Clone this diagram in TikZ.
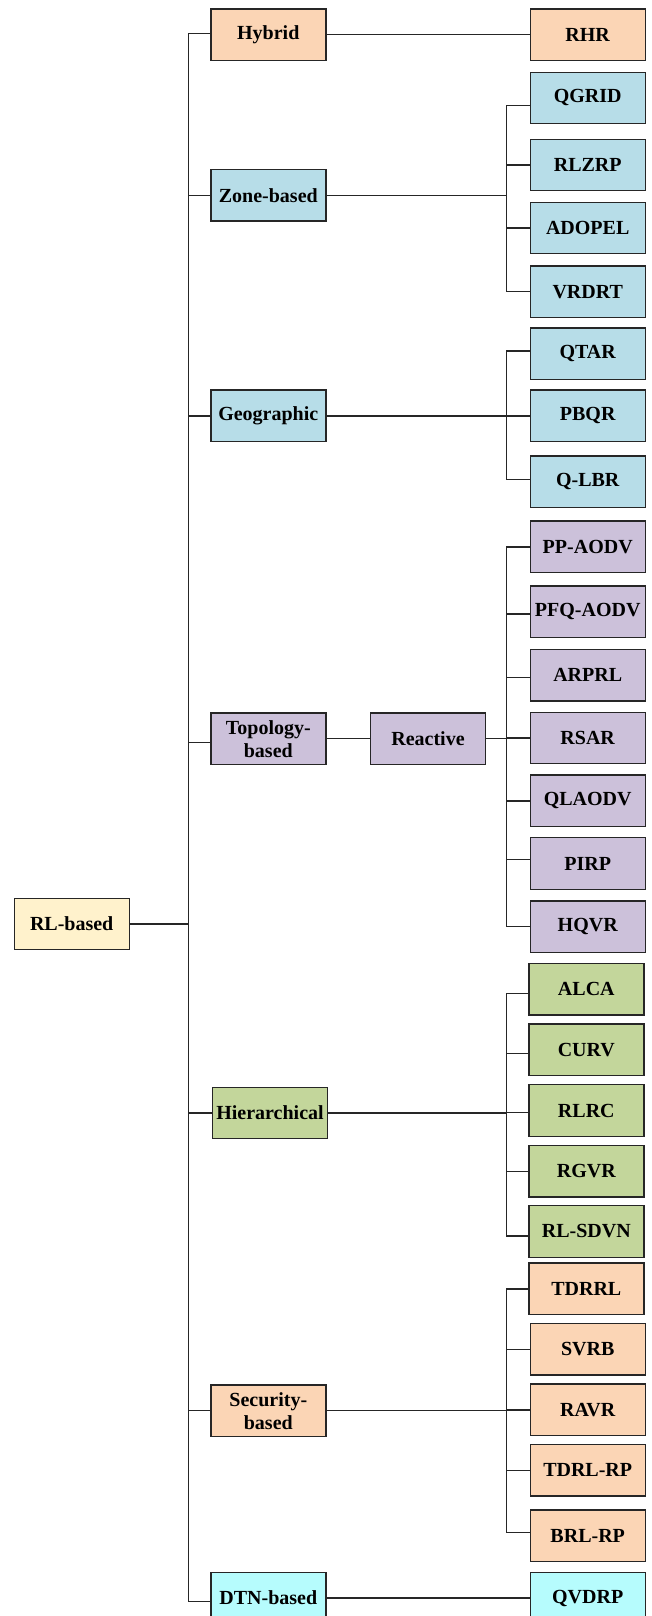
\documentclass[tikz,border=0pt]{standalone}
\usepackage{fontspec}
\setmainfont{Liberation Serif}
\definecolor{peach}{HTML}{FBD5B5}
\definecolor{sky}{HTML}{B7DDE8}
\definecolor{lavender}{HTML}{CCC1DA}
\definecolor{sage}{HTML}{C3D69B}
\definecolor{cream}{HTML}{FFF2CC}
\definecolor{aqua}{HTML}{B6FCFD}
\begin{document}
\begin{tikzpicture}[x=1pt,y=-1pt,
  box/.style={draw=black!85, line width=1.4pt, minimum width=115pt, minimum height=51.5pt,
    inner sep=0pt, align=center, font=\fontsize{20}{23}\selectfont\bfseries},
  link/.style={draw=black!85, line width=1.4pt}]
\useasboundingbox (0,0) rectangle (651,1616);
\clip (0,0) rectangle (651,1616);

% root
\node[box, fill=cream] (rl) at (71.7,924) {RL-based};

% first level
\node[box, fill=peach]    (hyb)  at (268.3,34.7)   {Hybrid};
\node[box, fill=sky]      (zone) at (268.3,195.3)  {Zone-based};
\node[box, fill=sky]      (geo)  at (268.3,415.8)  {Geographic};
\node[box, fill=lavender] (topo) at (268.3,738.7)  {Topology-\\based};
\node[box, fill=sage]     (hier) at (270,1113)     {Hierarchical};
\node[box, fill=peach]    (sec)  at (268.3,1410.7) {Security-\\based};
\node[box, fill=aqua]     (dtn)  at (268.3,1598)   {DTN-based};

% second level under topology
\node[box, fill=lavender] (react) at (428,738.7) {Reactive};

% leaves
\node[box, fill=peach] (rhr) at (587.7,34.7) {RHR};

\node[box, fill=sky] (qgrid)  at (587.7,98)    {QGRID};
\node[box, fill=sky] (rlzrp)  at (587.7,165)   {RLZRP};
\node[box, fill=sky] (adopel) at (587.7,228)   {ADOPEL};
\node[box, fill=sky] (vrdrt)  at (587.7,291.7) {VRDRT};

\node[box, fill=sky] (qtar) at (587.7,353.8) {QTAR};
\node[box, fill=sky] (pbqr) at (587.7,415.8) {PBQR};
\node[box, fill=sky] (qlbr) at (587.7,481.7) {Q-LBR};

\node[box, fill=lavender] (ppaodv)  at (587.7,546.8) {PP-AODV};
\node[box, fill=lavender] (pfqaodv) at (587.7,611.7) {PFQ-AODV};
\node[box, fill=lavender] (arprl)   at (587.7,675.3) {ARPRL};
\node[box, fill=lavender] (rsar)    at (587.7,738)   {RSAR};
\node[box, fill=lavender] (qlaodv)  at (587.7,800.8) {QLAODV};
\node[box, fill=lavender] (pirp)    at (587.7,863.5) {PIRP};
\node[box, fill=lavender] (hqvr)    at (587.7,926.7) {HQVR};

\node[box, fill=sage] (alca)   at (586.3,989.2)  {ALCA};
\node[box, fill=sage] (curv)   at (586.3,1049.8) {CURV};
\node[box, fill=sage] (rlrc)   at (586.3,1110.5) {RLRC};
\node[box, fill=sage] (rgvr)   at (586.3,1171.2) {RGVR};
\node[box, fill=sage] (rlsdvn) at (586.3,1231.5) {RL-SDVN};

\node[box, fill=peach] (tdrrl)  at (586.3,1288.8) {TDRRL};
\node[box, fill=peach] (svrb)   at (587.7,1349.3) {SVRB};
\node[box, fill=peach] (ravr)   at (587.7,1409.8) {RAVR};
\node[box, fill=peach] (tdrlrp) at (587.7,1470.3) {TDRL-RP};
\node[box, fill=peach] (brlrp)  at (587.7,1535.7) {BRL-RP};

\node[box, fill=aqua] (qvdrp) at (587.7,1598) {QVDRP};

% vertical buses
\coordinate (trunk) at (188.3,0);
\coordinate (bus)   at (506.3,0);

% attachment points that sit a little off the box centres
\coordinate (hybA)   at ([yshift=1.4pt]hyb.west);
\coordinate (topoA)  at ([yshift=-3.6pt]topo.west);
\coordinate (dtnA)   at ([yshift=-3.7pt]dtn.west);
\coordinate (qgridA) at ([yshift=-7.7pt]qgrid.west);
\coordinate (qtarA)  at ([yshift=3pt]qtar.west);
\coordinate (qlbrA)  at ([yshift=2.4pt]qlbr.west);
\coordinate (pirpA)  at ([yshift=4.2pt]pirp.west);
\coordinate (alcaA)  at ([yshift=-4.5pt]alca.west);
\coordinate (curvA)  at ([yshift=-3.9pt]curv.west);
\coordinate (rlrcA)  at ([yshift=-2.2pt]rlrc.west);
\coordinate (rlsdvnA) at ([yshift=-4.5pt]rlsdvn.west);
\coordinate (brlrpA) at ([yshift=3.4pt]brlrp.west);
\coordinate (arprlA) at ([yshift=-2pt]arprl.west);
\coordinate (pfqA)   at ([yshift=-2.3pt]pfqaodv.west);

% main trunk
\draw[link] (rl.east) -- (rl.east -| trunk);
\draw[link] (hybA) -- (hybA -| trunk) -- (dtnA -| trunk) -- (dtnA);
\draw[link] (topoA) -- (topoA -| trunk);
\foreach \n in {zone,geo,hier,sec}
  \draw[link] (\n.west) -- (\n.west -| trunk);

% single children
\draw[link] (hyb.east) -- (rhr.west);
\draw[link] (dtn.east) -- (qvdrp.west);
\draw[link] (topo.east) -- (react.west);

% grouped children
\draw[link] (zone.east) -- (zone.east -| bus);
\draw[link] (qgridA) -- (qgridA -| bus) -- (vrdrt.west -| bus) -- (vrdrt.west);
\foreach \n in {rlzrp,adopel} \draw[link] (\n.west) -- (\n.west -| bus);

\draw[link] (geo.east) -- (geo.east -| bus);
\draw[link] (qtarA) -- (qtarA -| bus) -- (qlbrA -| bus) -- (qlbrA);
\draw[link] (pbqr.west) -- (pbqr.west -| bus);

\draw[link] (react.east) -- (react.east -| bus);
\draw[link] (ppaodv.west) -- (ppaodv.west -| bus) -- (hqvr.west -| bus) -- (hqvr.west);
\foreach \n in {pfqA,arprlA,rsar.west,qlaodv.west,pirpA} \draw[link] (\n) -- (\n -| bus);

\draw[link] (hier.east) -- (hier.east -| bus);
\draw[link] (alcaA) -- (alcaA -| bus) -- (rlsdvnA -| bus) -- (rlsdvnA);
\foreach \n in {curvA,rlrcA,rgvr.west} \draw[link] (\n) -- (\n -| bus);

\draw[link] (sec.east) -- (sec.east -| bus);
\draw[link] (tdrrl.west) -- (tdrrl.west -| bus) -- (brlrpA -| bus) -- (brlrpA);
\foreach \n in {svrb,ravr,tdrlrp} \draw[link] (\n.west) -- (\n.west -| bus);
\end{tikzpicture}
\end{document}
